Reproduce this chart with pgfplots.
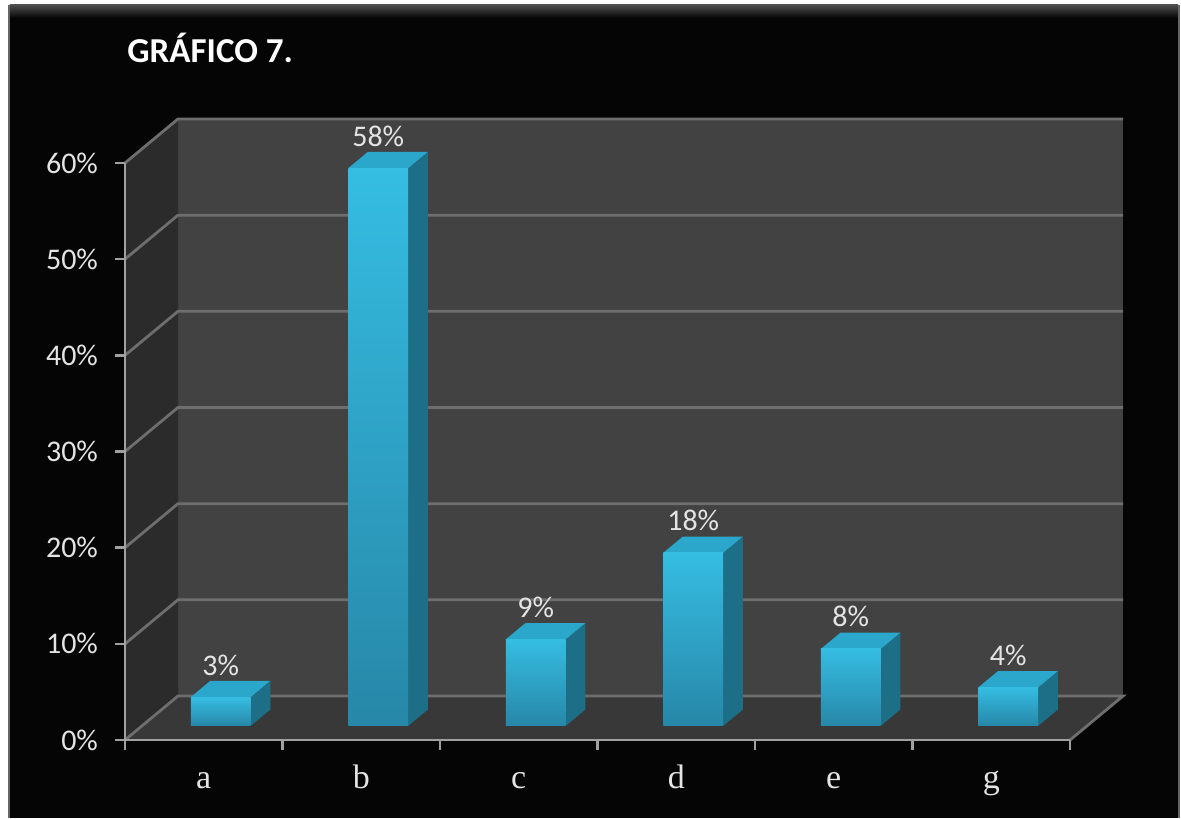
\documentclass[border=0pt]{standalone}
\usepackage{pgfplots}
\pgfplotsset{compat=1.18}
\usepackage{pgfplotstable}
\usepackage{fontspec}
\setmainfont{Carlito}
\newfontfamily\catfont{Liberation Serif}

\definecolor{bg}{HTML}{050505}
\definecolor{backwall}{HTML}{424242}
\definecolor{leftwall}{HTML}{2B2B2B}
\definecolor{floorc}{HTML}{383838}
\definecolor{gridc}{HTML}{6E6E6E}
\definecolor{axc}{HTML}{A0A0A0}
\definecolor{barTop}{HTML}{2CA7CC}
\definecolor{barSide}{HTML}{1D6E87}
\definecolor{barFrontT}{HTML}{35BDE2}
\definecolor{barFrontB}{HTML}{2787A8}
\definecolor{txt}{HTML}{E4E4E4}

\pgfplotstableread{
x v
0.5 3
1.5 58
2.5 9
3.5 18
4.5 8
5.5 4
}\datatable

% x0, x1, value
\newcommand{\cube}[3]{%
  \addplot3[draw=none, fill=barSide] coordinates {(#2,0.32,0) (#2,0.69,0) (#2,0.69,#3) (#2,0.32,#3)};
  \addplot3[draw=none, fill=barTop] coordinates {(#1,0.32,#3) (#2,0.32,#3) (#2,0.69,#3) (#1,0.69,#3)};
  \addplot3[draw=none, top color=barFrontT, bottom color=barFrontB] coordinates {(#1,0.32,0) (#2,0.32,0) (#2,0.32,#3) (#1,0.32,#3)};
}

\begin{document}
\begin{tikzpicture}
% page and chart background
\fill[white] (-62.5pt,-39pt) rectangle (528pt,370pt);
\fill[bg] (-57.5pt,-39pt) rectangle (526.5pt,367.5pt);
\shade[top color=black!70, bottom color=bg] (-57.5pt,361pt) rectangle (526.5pt,367.5pt);
\fill[black!60] (-58.5pt,-39pt) rectangle (-57.5pt,367.5pt);
\fill[black!60] (526.5pt,-39pt) rectangle (527.5pt,367.5pt);

% 3D part: walls, floor, grid, bars
\begin{axis}[
  at={(0,0)}, anchor=origin,
  x={(78.75pt,0pt)}, y={(26.5pt,22pt)}, z={(0pt,4.80833pt)},
  xmin=0, xmax=6, ymin=0, ymax=1, zmin=0, zmax=60,
  hide axis, clip=false,
]
  \addplot3[draw=none, fill=backwall] coordinates {(0,1,0) (6,1,0) (6,1,60) (0,1,60)};
  \addplot3[draw=none, fill=leftwall] coordinates {(0,0,0) (0,1,0) (0,1,60) (0,0,60)};
  \addplot3[draw=none, fill=floorc] coordinates {(0,0,0) (6,0,0) (6,1,0) (0,1,0)};
  \addplot3[gridc, line width=1.4pt] coordinates {(0,0,10) (0,1,10) (6,1,10)};
  \addplot3[gridc, line width=1.4pt] coordinates {(0,0,20) (0,1,20) (6,1,20)};
  \addplot3[gridc, line width=1.4pt] coordinates {(0,0,30) (0,1,30) (6,1,30)};
  \addplot3[gridc, line width=1.4pt] coordinates {(0,0,40) (0,1,40) (6,1,40)};
  \addplot3[gridc, line width=1.4pt] coordinates {(0,0,50) (0,1,50) (6,1,50)};
  \addplot3[gridc, line width=1.4pt] coordinates {(0,0,60) (0,1,60) (6,1,60)};
  \addplot3[gridc, line width=1.4pt] coordinates {(0,0,0) (0,1,0) (6,1,0) (6,0,0)};
  \cube{0.31}{0.69}{3}
  \cube{1.31}{1.69}{58}
  \cube{2.31}{2.69}{9}
  \cube{3.31}{3.69}{18}
  \cube{4.31}{4.69}{8}
  \cube{5.31}{5.69}{4}
  \addplot3[draw=none, point meta=explicit,
    nodes near coords={\pgfmathprintnumber[assume math mode=true]{\pgfplotspointmeta}\%},
    every node near coord/.append style={anchor=base, yshift=11pt, text=txt,
      font=\fontsize{15}{18}\selectfont}]
    table[x=x, y expr=0.32, z=v, meta=v] {\datatable};
\end{axis}

% 2D front plane: axes, ticks, labels, title
\begin{axis}[
  at={(0,0)}, anchor=origin,
  scale only axis, width=472.5pt, height=288.5pt,
  xmin=0, xmax=6, ymin=0, ymax=60,
  axis x line*=bottom, axis y line*=left,
  axis line style={draw=axc, line width=1.2pt, -},
  tick style={draw=axc, line width=1.2pt},
  major tick length=5pt, tick align=outside,
  xtick={0,1,2,3,4,5,6},
  xticklabels={a,b,c,d,e,g,{}},
  xticklabel style={anchor=base, xshift=39.375pt, yshift=-19pt, text=txt,
    font=\catfont\fontsize{17}{20}\selectfont},
  ytick={0,10,20,30,40,50,60},
  yticklabels={0\%,10\%,20\%,30\%,40\%,50\%,60\%},
  yticklabel style={xshift=-5pt, text=txt, font=\fontsize{15}{18}\selectfont},
  clip=false,
]
  \node[anchor=base west, inner sep=0pt, text=white, font=\bfseries\fontsize{17.5}{20}\selectfont]
    at (axis cs:0.013,70.4) {GRÁFICO 7.};
\end{axis}
\end{tikzpicture}
\end{document}
